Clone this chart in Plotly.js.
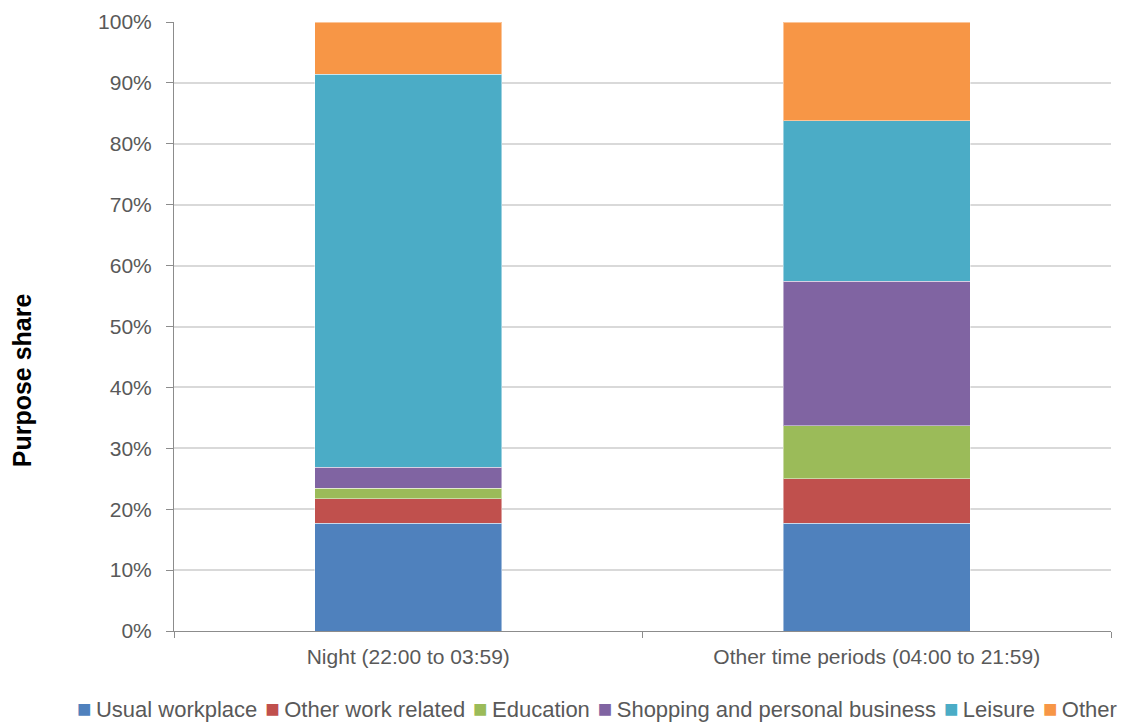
<!DOCTYPE html>
<html><head><meta charset="utf-8">
<script src="https://cdn.plot.ly/plotly-3.0.1.min.js"></script>
<style>html,body{margin:0;padding:0;background:#fff}</style>
</head><body>
<div id="chart" style="width:1122px;height:722px"></div>
<script>
const categories = ["Night (22:00 to 03:59)", "Other time periods (04:00 to 21:59)"];
const seriesNames = ["Usual workplace", "Other work related", "Education", "Shopping and personal business", "Leisure", "Other"];
const usualWorkplace = [17.7, 17.7];
const otherWorkRelated = [4.0, 7.3];
const education = [1.7, 8.7];
const shoppingPersonal = [3.5, 23.7];
const leisure = [64.5, 26.4];
const other = [8.6, 16.2];
const colors = ["#4F81BD", "#C0504D", "#9BBB59", "#8064A2", "#4BACC6", "#F79646"];
const yTicks = [0,10,20,30,40,50,60,70,80,90,100];
const yTickLabels = yTicks.map(v => v + "%");
const yTitle = "Purpose share";

const values = [usualWorkplace, otherWorkRelated, education, shoppingPersonal, leisure, other];
const traces = values.map((v, i) => ({
  type: "bar", x: categories, y: v, name: seriesNames[i],
  marker: {color: colors[i], line: {color: "rgba(255,255,255,0.45)", width: 1}},
  hoverinfo: "none", showlegend: false
}));

const legendText = seriesNames.map((n, i) =>
  '<span style="color:' + colors[i] + ';font-size:24px">■</span>\u2009' + n
).join(" \u200A");

const layout = {
  width: 1122, height: 722,
  margin: {l: 174, r: 11, t: 22, b: 91},
  barmode: "stack", bargap: 0.6,
  paper_bgcolor: "#fff", plot_bgcolor: "#fff",
  font: {family: "Arial, Liberation Sans, sans-serif", size: 21, color: "#595959"},
  xaxis: {
    showgrid: false, showline: true, linecolor: "#8c8c8c", linewidth: 1,
    ticks: "outside", tickson: "boundaries", ticklen: 6, tickcolor: "#8c8c8c",
    tickfont: {size: 21, color: "#595959"}, ticklabelstandoff: 7
  },
  yaxis: {
    range: [0, 100], tickvals: yTicks, ticktext: yTickLabels,
    showgrid: true, gridcolor: "#d9d9d9", gridwidth: 2,
    showline: true, linecolor: "#8c8c8c", linewidth: 1,
    ticks: "outside", ticklen: 7, tickcolor: "#8c8c8c",
    tickfont: {size: 21, color: "#595959"}, zeroline: false, ticklabelstandoff: 10
  },
  showlegend: false,
  annotations: [
    {
      text: "<b>" + yTitle + "</b>", textangle: -90,
      xref: "paper", yref: "paper", x: -0.162, y: 0.412,
      xanchor: "center", yanchor: "middle", showarrow: false,
      font: {size: 25, color: "#000"}
    },
    {
      text: legendText, xref: "paper", yref: "paper",
      x: 0.451, y: -0.128, xanchor: "center", yanchor: "middle", showarrow: false,
      font: {size: 22, color: "#595959"}
    }
  ]
};
Plotly.newPlot("chart", traces, layout, {displayModeBar: false, staticPlot: true});
</script>
</body></html>
